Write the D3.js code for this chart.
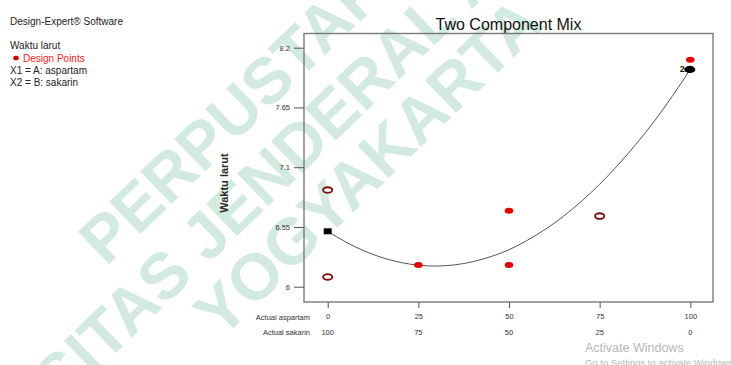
<!DOCTYPE html>
<html>
<head>
<meta charset="utf-8">
<script src="https://cdn.jsdelivr.net/npm/d3@7"></script>
<style>
  html, body { margin: 0; padding: 0; background: #fff; }
  svg { display: block; }
  text { font-family: Arial, "Liberation Sans", sans-serif; }
</style>
</head>
<body>
<svg id="chart" width="731" height="365"></svg>
<script>
// Mixture design: aspartam vs sakarin, response "Waktu larut"
const aspartamTicks = [0, 25, 50, 75, 100];
const sakarinTicks = [100, 75, 50, 25, 0];
const yTicks = [6, 6.55, 7.1, 7.65, 8.2];

// Design points (x = % aspartam)
const filledX = [25, 50, 50, 100, 100];
const filledY = [6.2, 6.2, 6.70, 8.09, 8.0];
const hollowX = [0, 0, 75];
const hollowY = [6.89, 6.09, 6.65];

// Replicate marker
const repX = [100];
const repY = [8.0];
const repCount = ["2"];

// Fitted model line
const modelX = [0, 5, 10, 15, 20, 25, 30, 35, 40, 45, 50, 55, 60, 65, 70, 75, 80, 85, 90, 95, 100];
const modelY = [6.51, 6.411, 6.33, 6.268, 6.224, 6.198, 6.19, 6.201, 6.23, 6.277, 6.34,
                6.426, 6.528, 6.648, 6.787, 6.943, 7.118, 7.311, 7.52, 7.752, 8.0];

const legendLines = ["Waktu larut", "Design Points", "X1 = A: aspartam", "X2 = B: sakarin"];
const watermarkLines = ["PERPUSTAKAAN", "UNIVERSITAS JENDERAL ACHMAD YANI", "YOGYAKARTA"];

const svg = d3.select("#chart");

// ---- watermark (behind everything) ----
const wm = svg.append("g").attr("class", "watermark");
const wmSpecs = [
  { text: watermarkLines[0], key: 0, ax: 106, ay: 267 },
  { text: watermarkLines[1], key: 12, ax: 208, ay: 264 },
  { text: watermarkLines[2], key: 0, ax: 221, ay: 340 }
];
wmSpecs.forEach(s => {
  const g = wm.append("g").attr("transform", `translate(${s.ax},${s.ay}) rotate(-44)`);
  const t = g.append("text")
    .attr("font-size", 65)
    .attr("font-weight", "bold")
    .attr("fill", "#d2eadf")
    .text(s.text);
  const off = s.key > 0 ? t.node().getSubStringLength(0, s.key) : 0;
  t.attr("x", -off);
});

// ---- scales ----
const frame = { left: 304, right: 713, top: 33.5, bottom: 302 };
const x = d3.scaleLinear().domain([0, 100]).range([327.7, 690.3]);
const y = d3.scaleLinear().domain([6, 8.2]).range([286.7, 47.7]);

// ---- left info block ----
svg.append("text").attr("x", 10).attr("y", 24.5).attr("font-size", 10).attr("fill", "#222")
  .text("Design-Expert® Software");
svg.append("text").attr("x", 10).attr("y", 49).attr("font-size", 10).attr("fill", "#222")
  .text(legendLines[0]);
svg.append("ellipse").attr("cx", 16).attr("cy", 58).attr("rx", 2.8).attr("ry", 2.3).attr("fill", "#d40000");
svg.append("text").attr("x", 23).attr("y", 61.5).attr("font-size", 10).attr("fill", "#ff2020")
  .text(legendLines[1]);
svg.append("text").attr("x", 10).attr("y", 74).attr("font-size", 10).attr("fill", "#222")
  .text(legendLines[2]);
svg.append("text").attr("x", 10).attr("y", 86.3).attr("font-size", 10).attr("fill", "#222")
  .text(legendLines[3]);

// ---- title ----
svg.append("text").attr("x", (frame.left + frame.right) / 2).attr("y", 30)
  .attr("text-anchor", "middle").attr("font-size", 16).attr("fill", "#111")
  .text("Two Component Mix");

// ---- frame ----
svg.append("rect")
  .attr("x", frame.left).attr("y", frame.top)
  .attr("width", frame.right - frame.left).attr("height", frame.bottom - frame.top)
  .attr("fill", "none").attr("stroke", "#7a7a7a").attr("stroke-width", 1.4);

// ---- y axis ----
const yAxis = d3.axisLeft(y).tickValues(yTicks).tickSize(10).tickPadding(4)
  .tickFormat(d => String(d));
const gy = svg.append("g").attr("transform", `translate(${frame.left},0)`).call(yAxis);
gy.select(".domain").remove();
gy.selectAll(".tick line").attr("stroke", "#555").attr("stroke-width", 1);
gy.selectAll(".tick text").attr("font-size", 7.5).attr("fill", "#333")
  .attr("font-family", "Arial, 'Liberation Sans', sans-serif");

svg.append("text")
  .attr("transform", `translate(228,183) rotate(-90)`)
  .attr("text-anchor", "middle").attr("font-size", 11).attr("font-weight", "bold").attr("fill", "#2a2a2a")
  .text("Waktu larut");

// ---- x axis (two label rows) ----
const xAxis = d3.axisBottom(x).tickValues(aspartamTicks).tickSize(6).tickPadding(6)
  .tickFormat(d => String(d));
const gx = svg.append("g").attr("transform", `translate(0,${frame.bottom})`).call(xAxis);
gx.select(".domain").remove();
gx.selectAll(".tick line").attr("stroke", "#555").attr("stroke-width", 1);
gx.selectAll(".tick text").attr("font-size", 7.5).attr("fill", "#333")
  .attr("font-family", "Arial, 'Liberation Sans', sans-serif");

svg.append("g").selectAll("text").data(aspartamTicks.map((v, i) => [v, sakarinTicks[i]]))
  .join("text")
  .attr("x", d => x(d[0])).attr("y", 335)
  .attr("text-anchor", "middle").attr("font-size", 7.5).attr("fill", "#333")
  .text(d => d[1]);

svg.append("text").attr("x", 310).attr("y", 320).attr("text-anchor", "end")
  .attr("font-size", 7.5).attr("fill", "#333").text("Actual aspartam");
svg.append("text").attr("x", 310).attr("y", 335).attr("text-anchor", "end")
  .attr("font-size", 7.5).attr("fill", "#333").text("Actual sakarin");

// ---- model line ----
const line = d3.line().x(d => x(d[0])).y(d => y(d[1])).curve(d3.curveNatural);
svg.append("path")
  .datum(modelX.map((v, i) => [v, modelY[i]]))
  .attr("d", line).attr("fill", "none").attr("stroke", "#555").attr("stroke-width", 1);

// model end marker at 0% aspartam
svg.append("rect")
  .attr("x", x(modelX[0]) - 4).attr("y", y(modelY[0]) - 3)
  .attr("width", 8).attr("height", 6).attr("fill", "#000");

// ---- design points ----
svg.append("g").selectAll("ellipse").data(hollowX.map((v, i) => [v, hollowY[i]]))
  .join("ellipse")
  .attr("cx", d => x(d[0])).attr("cy", d => y(d[1]))
  .attr("rx", 4.6).attr("ry", 2.8)
  .attr("fill", "#fff").attr("stroke", "#7a1010").attr("stroke-width", 1.9);

svg.append("g").selectAll("ellipse").data(filledX.map((v, i) => [v, filledY[i]]))
  .join("ellipse")
  .attr("cx", d => x(d[0])).attr("cy", d => y(d[1]))
  .attr("rx", 4.3).attr("ry", 3)
  .attr("fill", "#e60000");

// prediction end point at 100% aspartam
const last = modelX.length - 1;
svg.append("ellipse")
  .attr("cx", x(modelX[last]) - 0.5).attr("cy", y(modelY[last]))
  .attr("rx", 5.5).attr("ry", 3.6).attr("fill", "#000");

svg.append("g").selectAll("text").data(repX.map((v, i) => [v, repY[i], repCount[i]]))
  .join("text")
  .attr("x", d => x(d[0]) - 5.5).attr("y", d => y(d[1]) + 3)
  .attr("text-anchor", "end").attr("font-size", 9).attr("font-weight", "bold").attr("fill", "#111")
  .text(d => d[2]);

// ---- system overlay text ----
svg.append("text").attr("x", 585).attr("y", 352).attr("font-size", 12.5)
  .attr("font-family", "'Open Sans', 'DejaVu Sans', sans-serif").attr("fill", "#b8b8b8")
  .text("Activate Windows");
svg.append("text").attr("x", 585).attr("y", 366).attr("font-size", 9.5)
  .attr("font-family", "'Open Sans', 'DejaVu Sans', sans-serif").attr("fill", "#b8b8b8")
  .text("Go to Settings to activate Windows.");
</script>
</body>
</html>
